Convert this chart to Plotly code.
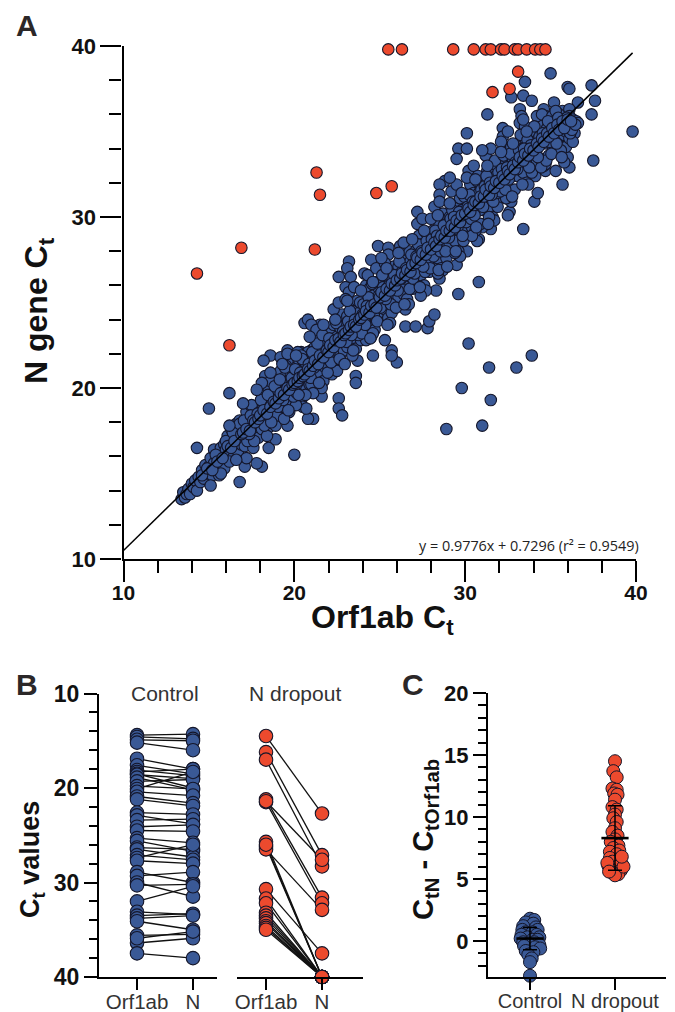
import plotly.graph_objects as go

W, H = 675, 1012
BLUE = "#3A5996"
RED = "#EC4A2E"
EDGE = "#14162A"
FONT = "Liberation Sans"

# ---------- Panel A data ----------
core_x = [
13.4,13.5,13.6,13.7,13.8,13.9,14.0,14.1,14.2,14.3,14.4,14.5,14.6,14.7,14.8,14.9,
15.0,15.1,15.2,15.3,15.3,15.4,15.5,15.6,15.6,15.7,15.8,15.9,15.9,
16.0,16.1,16.2,16.3,16.3,16.4,16.5,16.6,16.7,16.7,16.8,16.9,16.9,
17.0,17.1,17.1,17.2,17.3,17.3,17.4,17.4,17.5,17.6,17.6,17.7,17.8,17.8,17.9,17.9,17.5,17.2,
18.0,18.1,18.1,18.2,18.2,18.3,18.4,18.4,18.5,18.5,18.6,18.7,18.7,18.8,18.9,18.9,18.3,18.6,18.1,18.4,
19.0,19.0,19.1,19.2,19.2,19.3,19.3,19.4,19.5,19.5,19.6,19.6,19.7,19.8,19.8,19.9,19.9,19.2,19.5,19.7,19.4,19.6,
20.0,20.0,20.1,20.2,20.2,20.3,20.4,20.4,20.5,20.5,20.6,20.7,20.7,20.8,20.8,20.9,20.9,20.2,20.5,20.7,20.4,20.1,
21.0,21.0,21.1,21.2,21.2,21.3,21.4,21.4,21.5,21.5,21.6,21.7,21.7,21.8,21.8,21.9,21.9,21.3,21.6,21.1,
22.0,22.0,22.1,22.2,22.2,22.3,22.4,22.4,22.5,22.5,22.6,22.7,22.7,22.8,22.8,22.9,22.9,22.3,22.6,22.2,22.5,
23.0,23.1,23.1,23.2,23.3,23.3,23.4,23.5,23.5,23.6,23.6,23.7,23.8,23.8,23.9,23.9,23.2,23.5,23.7,23.4,23.0,
24.0,24.0,24.1,24.2,24.2,24.3,24.4,24.4,24.5,24.5,24.6,24.7,24.7,24.8,24.8,24.9,24.9,24.3,24.6,24.2,24.8,
25.0,25.0,25.1,25.2,25.2,25.3,25.4,25.4,25.5,25.5,25.6,25.7,25.7,25.8,25.8,25.9,25.9,25.3,25.6,25.1,
26.0,26.1,26.1,26.2,26.3,26.3,26.4,26.5,26.5,26.6,26.6,26.7,26.8,26.8,26.9,26.9,26.2,26.5,26.7,26.4,
27.0,27.1,27.1,27.2,27.3,27.3,27.4,27.5,27.5,27.6,27.6,27.7,27.8,27.8,27.9,27.9,27.2,27.5,27.7,27.4,
28.0,28.1,28.1,28.2,28.3,28.3,28.4,28.5,28.5,28.6,28.6,28.7,28.8,28.8,28.9,28.9,28.2,28.5,28.7,28.4,28.0,
29.0,29.1,29.1,29.2,29.3,29.3,29.4,29.5,29.5,29.6,29.6,29.7,29.8,29.8,29.9,29.9,29.2,29.5,29.7,29.4,29.1,
30.0,30.1,30.1,30.2,30.3,30.3,30.4,30.5,30.5,30.6,30.6,30.7,30.8,30.8,30.9,30.9,30.2,30.5,30.7,30.4,30.1,
31.0,31.1,31.1,31.2,31.3,31.3,31.4,31.5,31.5,31.6,31.6,31.7,31.8,31.8,31.9,31.9,31.2,31.5,31.7,31.4,31.0,
32.0,32.1,32.1,32.2,32.3,32.3,32.4,32.5,32.5,32.6,32.6,32.7,32.8,32.8,32.9,32.9,32.2,32.5,32.7,32.4,32.1,
33.0,33.1,33.1,33.2,33.3,33.3,33.4,33.5,33.5,33.6,33.6,33.7,33.8,33.8,33.9,33.9,33.2,33.5,33.7,33.4,
34.0,34.1,34.1,34.2,34.3,34.3,34.4,34.5,34.5,34.6,34.6,34.7,34.8,34.8,34.9,34.9,34.2,34.5,34.7,
35.0,35.1,35.1,35.2,35.3,35.4,35.5,35.5,35.6,35.7,35.8,35.8,35.9,35.9,35.3,35.6,
36.0,36.1,36.1,36.2,36.3,36.4,36.5,36.6,36.3,
]
core_y = [
13.5,13.9,13.6,13.8,14.1,13.8,14.4,14.2,14.6,14.0,14.8,14.5,15.2,14.7,15.5,15.0,
15.4,15.9,14.9,15.6,16.4,15.2,16.0,15.4,14.9,16.5,15.9,16.7,15.3,
16.4,17.2,16.2,16.9,17.6,15.9,16.6,17.9,16.3,17.2,18.1,16.7,17.5,
17.9,17.2,16.6,18.6,17.5,18.1,16.9,17.7,18.9,17.8,16.5,18.2,17.3,18.8,18.0,17.1,19.0,15.9,
18.6,19.7,17.6,18.9,18.0,19.3,18.1,18.8,20.0,17.7,19.1,18.4,19.6,18.9,17.8,19.4,20.7,20.4,20.3,17.2,
19.6,18.4,20.2,19.5,21.0,18.9,19.9,20.6,19.2,19.9,21.5,20.3,19.4,20.1,20.8,19.0,20.4,21.8,21.3,18.6,18.2,22.0,
20.5,19.5,21.2,20.0,20.7,21.6,20.3,19.3,21.0,22.0,20.6,21.4,19.9,20.9,22.1,20.2,21.7,22.1,18.9,18.8,21.9,19.0,
21.4,20.2,22.0,21.2,22.4,20.6,21.7,22.8,20.9,21.9,22.4,21.3,20.4,22.0,23.2,21.5,22.7,23.4,20.0,19.7,
22.3,21.2,23.2,22.0,22.8,23.7,22.2,21.3,23.0,24.1,22.6,23.5,21.9,22.9,24.3,22.2,23.6,24.6,25.0,20.8,21.0,
23.3,24.2,22.4,23.1,23.8,24.9,22.9,23.4,24.5,22.3,23.9,25.1,23.5,24.4,22.8,24.0,25.6,25.9,21.6,21.9,25.2,
24.3,23.2,25.2,24.1,26.0,23.6,24.7,25.8,23.0,24.9,25.4,24.2,23.4,25.0,26.2,24.5,25.9,26.6,23.2,22.8,27.0,
25.2,24.2,26.2,25.1,25.9,24.6,25.7,26.8,24.1,25.5,26.4,25.2,24.4,26.0,27.1,25.5,26.7,27.3,23.8,27.6,
26.2,27.1,25.3,26.0,26.8,27.9,25.5,26.4,27.5,25.2,26.9,28.0,26.5,27.4,25.8,27.0,28.3,24.6,24.9,28.5,
27.3,28.0,26.4,27.1,27.6,28.9,26.6,27.3,28.4,26.0,27.8,29.1,27.4,28.4,26.8,27.9,29.6,29.9,25.7,25.4,
28.1,29.2,27.2,28.1,28.6,29.9,27.6,28.3,29.6,27.0,28.8,30.2,28.4,29.4,27.6,29.1,30.6,30.9,26.9,26.7,29.9,
29.3,30.0,28.4,28.9,29.8,30.7,28.6,29.3,30.6,28.0,29.8,31.1,29.4,30.4,28.6,30.1,31.5,31.9,27.7,27.9,32.3,
30.1,31.2,29.2,30.1,30.6,31.9,29.4,30.5,31.4,29.2,30.8,32.1,30.4,31.4,29.6,31.1,32.7,33.0,28.6,28.9,32.3,
31.3,32.0,30.4,30.9,31.8,32.7,30.6,31.3,32.6,30.0,32.0,33.1,31.4,32.4,30.6,31.9,33.6,34.0,29.8,30.0,33.9,
32.1,33.2,31.2,32.1,32.6,33.9,31.4,32.5,33.4,31.0,32.8,34.1,32.4,33.4,31.6,33.1,34.7,35.0,30.9,31.1,34.4,
33.3,34.0,32.4,32.9,33.8,34.7,32.6,33.3,34.6,32.0,33.8,35.1,33.4,34.4,32.6,34.1,35.5,35.3,31.9,35.7,
34.1,35.0,33.2,34.1,34.6,35.7,33.4,34.3,35.4,33.0,34.8,35.9,34.3,35.2,33.6,34.9,35.9,36.0,33.1,
35.1,35.9,34.2,35.0,35.6,34.5,35.2,36.0,34.1,35.5,34.8,35.7,35.0,34.1,36.2,33.9,
35.4,35.9,34.6,35.2,35.7,34.9,35.6,35.5,34.4,
]
spread_x = [
30.2,33.9,31.4,33.0,29.8,31.5,31.0,28.9,26.0,25.7,25.7,25.3,24.6,23.6,23.6,22.6,22.6,22.8,
26.5,27.1,27.8,27.9,28.2,35.0,33.5,36.0,36.1,37.4,37.6,37.4,39.8,37.5,35.7,33.4,30.8,30.8,
29.6,28.3,31.3,30.1,29.6,30.1,29.5,27.2,28.8,28.5,28.5,24.9,25.5,25.5,24.5,23.2,23.1,22.6,
23.3,23.0,24.1,20.6,20.8,21.5,21.5,18.6,18.2,16.2,15.0,14.3,16.8,20.0,19.6,18.1,17.8,17.1,
18.5,18.9,21.1,20.8,21.6,19.6,20.4,21.0,21.0,33.2,33.3,32.7,33.4,33.9,34.6,35.2,36.6,35.7,
36.1,34.05,34.25,32.6,32.5,34.1,34.7,35.3,36.1,36.0,35.8,31.5,31.0,30.1,29.5,28.5,32.2,
]
spread_y = [
22.6,21.9,21.2,21.2,20.0,19.3,17.8,17.6,21.5,22.2,21.9,22.8,21.9,20.7,20.3,19.4,18.8,18.4,
23.6,23.6,23.5,23.9,24.3,38.4,37.9,37.6,37.5,37.7,36.8,36.0,35.0,33.3,31.9,29.3,28.7,26.2,
25.5,25.7,36.0,34.9,34.0,34.0,33.4,30.3,32.1,31.9,31.3,28.3,28.2,27.8,27.5,27.4,27.0,26.5,
26.5,25.9,26.7,23.8,24.0,23.7,23.4,21.9,21.6,19.7,18.8,16.5,14.5,16.1,17.8,15.4,15.6,15.4,
16.5,17.0,18.2,18.2,19.5,22.2,22.1,22.2,23.7,36.3,35.9,37.0,37.1,36.8,36.3,36.7,36.7,36.2,
36.3,30.9,31.4,30.3,30.1,32.4,32.7,32.7,32.9,33.5,33.2,29.3,29.4,28.0,27.2,26.4,35.2,
]
# Denser body of the cloud, read as a second pass along the band
body_x = [
15.1,15.4,15.7,16.0,16.2,16.4,16.6,16.8,17.05,17.25,17.45,17.65,17.85,18.05,18.25,18.45,18.65,18.85,
19.05,19.15,19.35,19.45,19.65,19.85,19.95,20.05,20.15,20.35,20.45,20.65,20.85,20.95,
21.05,21.15,21.35,21.45,21.65,21.75,21.95,22.05,22.15,22.35,22.45,22.65,22.85,22.95,
23.05,23.15,23.25,23.45,23.55,23.75,23.85,23.95,24.05,24.15,24.35,24.45,24.55,24.65,24.85,24.95,
25.05,25.15,25.25,25.45,25.55,25.65,25.85,25.95,26.05,26.15,26.25,26.45,26.55,26.75,26.85,26.95,
27.05,27.15,27.25,27.35,27.45,27.65,27.75,27.85,27.95,28.05,28.15,28.25,28.45,28.55,28.75,28.85,28.95,
29.05,29.15,29.25,29.45,29.55,29.65,29.85,29.95,30.05,30.15,30.25,30.35,30.45,30.65,30.75,30.85,30.95,
31.05,31.15,31.25,31.35,31.45,31.65,31.75,31.85,31.95,32.05,32.15,32.25,32.35,32.55,32.65,32.75,32.95,
33.05,33.15,33.25,33.35,33.55,33.65,33.75,33.85,33.95,34.05,34.15,34.35,34.45,34.55,34.75,34.85,34.95,
35.05,35.25,35.35,35.45,35.65,35.75,35.95,36.15,36.25,36.45,
17.35,18.35,19.25,20.25,21.25,22.25,23.35,24.25,25.35,26.35,27.55,28.35,29.35,30.55,31.55,32.45,33.45,34.25,
]
body_y = [
14.3,16.1,15.0,16.9,15.7,17.4,15.8,17.9,18.1,16.9,18.4,16.9,18.5,19.3,17.8,19.6,18.0,20.1,
18.9,20.5,19.3,21.2,18.7,20.6,19.5,21.1,19.7,20.9,21.7,19.6,21.4,20.6,
22.1,21.2,22.6,20.3,23.1,21.9,20.9,22.9,21.5,22.6,23.8,21.7,23.3,21.4,
22.7,23.9,24.5,22.2,24.0,23.1,25.0,23.2,24.9,23.7,25.3,22.9,26.1,24.3,23.9,25.4,
24.7,26.6,25.6,23.7,26.0,24.9,26.6,24.7,25.7,27.4,26.4,24.9,27.0,25.8,27.8,26.4,
26.7,27.7,28.4,25.9,28.0,26.8,28.6,27.2,27.0,28.7,27.7,29.2,26.9,28.0,29.5,28.0,27.1,
28.8,29.9,30.4,28.0,29.4,30.3,28.9,31.2,29.7,30.6,31.3,29.9,30.9,29.4,32.4,30.4,31.6,
30.6,31.8,32.4,29.6,32.0,30.9,33.3,31.4,32.6,31.5,32.8,33.6,31.6,32.2,33.7,31.2,33.2,
32.8,33.9,34.8,31.9,33.3,34.5,32.9,34.2,33.7,35.3,33.8,34.7,32.9,34.9,33.3,35.6,34.4,
33.7,35.2,34.3,35.8,33.5,35.3,35.8,34.9,35.1,35.4,
17.3,18.5,19.7,19.6,21.6,22.6,23.1,24.8,25.2,26.6,27.1,28.9,30.0,30.1,31.3,32.9,34.0,33.5,
]
# Third pass: the darkest ridge and the filled edges of the band
ridge_x = [
14.6,14.9,15.2,15.5,15.8,16.1,16.3,16.5,16.9,17.0,17.2,17.4,17.6,17.7,17.9,18.0,18.2,18.4,18.6,18.8,18.9,
19.1,19.2,19.4,19.6,19.7,19.9,20.0,20.2,20.3,20.5,20.6,20.8,20.9,21.1,21.2,21.4,21.5,21.7,21.9,
22.0,22.1,22.3,22.4,22.6,22.7,22.9,23.0,23.2,23.3,23.5,23.6,23.8,23.9,24.1,24.2,24.4,24.5,24.7,24.8,
25.0,25.1,25.3,25.4,25.6,25.7,25.9,26.0,26.2,26.3,26.5,26.6,26.8,26.9,27.1,27.2,27.4,27.5,27.7,27.8,
28.0,28.2,28.3,28.5,28.6,28.8,28.9,29.1,29.2,29.4,29.5,29.7,29.8,30.0,30.2,30.3,30.5,30.6,30.8,30.9,
31.1,31.2,31.4,31.5,31.7,31.8,32.0,32.2,32.3,32.5,32.6,32.8,32.9,33.1,33.2,33.4,33.5,33.7,33.8,34.0,
34.2,34.3,34.5,34.6,34.8,34.9,35.1,35.2,35.4,35.5,35.7,35.8,36.0,36.2,
16.2,17.0,17.8,18.6,19.3,20.1,20.9,21.7,22.4,23.1,23.9,24.6,25.4,26.1,26.9,27.6,28.4,29.1,29.8,30.6,31.3,32.1,32.8,33.6,
]
ridge_y = [
14.9,15.3,15.2,15.7,15.9,16.6,16.5,16.9,17.3,17.4,17.6,17.5,18.1,18.0,18.2,18.4,18.7,18.5,18.9,19.2,19.1,
19.4,19.7,19.6,20.0,19.9,20.2,20.3,20.4,20.6,20.7,20.8,21.1,21.0,21.3,21.6,21.4,21.9,21.8,22.2,
22.1,22.5,22.4,22.8,22.9,22.7,23.1,23.2,23.4,23.6,23.7,23.6,24.0,24.1,24.3,24.5,24.4,24.8,24.9,24.7,
25.3,25.6,25.4,25.8,25.7,26.1,26.0,26.3,26.4,26.7,26.6,26.9,26.8,27.2,27.3,27.6,27.5,27.9,27.8,28.2,
28.1,28.5,28.3,28.7,28.9,28.8,29.2,29.2,29.5,29.4,29.8,29.7,30.1,30.2,30.5,30.3,30.7,30.9,30.8,31.2,
31.2,31.6,31.3,31.8,31.7,32.1,32.0,32.4,32.2,32.7,32.5,33.0,32.8,33.2,33.5,33.3,33.7,33.6,34.0,33.9,
34.3,34.1,34.6,34.4,34.9,34.7,35.2,34.9,35.4,35.1,35.6,35.2,35.7,35.6,
17.8,19.1,19.9,20.9,21.4,21.9,23.0,23.7,24.0,25.1,25.7,26.2,27.0,27.9,28.7,29.2,30.1,30.8,31.4,32.2,33.0,33.8,34.3,35.0,
]
dropout_x = [25.5,26.3,29.3,30.5,31.2,31.5,32.1,32.3,32.9,33.1,33.6,34.1,34.4,34.7,
             33.1,32.6,31.6,25.7,24.8,14.3,16.9,21.2,21.5,21.3,16.2]
dropout_y = [39.8,39.8,39.8,39.8,39.8,39.8,39.8,39.8,39.8,39.8,39.8,39.8,39.8,39.8,
             38.5,37.5,37.3,31.8,31.4,26.7,28.2,28.1,31.3,32.6,22.5]
fit_x = [10, 39.8]
fit_y = [10.5, 39.6]

# ---------- Panel B data ----------
pair_categories = ["Orf1ab", "N"]
control_orf = [14.4,14.6,14.9,15.2,16.9,17.6,18.1,18.3,18.5,18.6,18.9,19.3,19.8,20.1,20.4,20.9,21.2,
               22.6,22.9,23.4,24.1,24.5,25.3,25.6,26.3,26.5,27.1,27.4,27.7,28.9,29.3,30.0,30.3,
               32.0,33.1,33.5,33.8,34.1,35.6,36.4,37.5,35.9]
control_n = [14.3,14.8,15.0,16.0,18.0,18.5,18.7,18.0,20.0,19.0,20.2,19.1,20.1,18.3,20.8,21.6,21.9,
             22.8,23.8,23.3,23.9,24.6,25.8,26.7,26.5,27.3,27.6,26.0,28.0,30.0,28.9,31.5,30.2,
             30.4,33.4,33.3,33.5,35.0,35.5,35.9,38.0,35.2]
drop_orf = [14.5,16.2,17.0,21.2,21.5,25.7,26.2,26.5,30.7,31.7,32.2,33.2,33.5,33.8,34.1,34.3,34.6,34.8,35.0,21.4,26.0]
drop_n = [22.7,27.1,28.3,31.6,32.2,40,40,32.9,37.5,40,40,40,40,40,40,40,40,40,40,27.6,40]

# ---------- Panel C data ----------
swarm_categories = ["Control", "N dropout"]
delta_control = [1.8,1.7,1.5,1.4,1.2,1.1,0.9,0.9,0.7,0.7,0.5,0.5,0.3,0.3,0.2,0.1,0.1,-0.1,-0.1,-0.2,
                 -0.3,-0.4,-0.5,-0.6,-0.8,-0.9,-1.1,-1.4,-1.7,-2.8]
offset_control = [0.0,0.05,-0.05,0.04,-0.08,0.07,-0.09,0.09,-0.05,0.03,-0.1,0.08,-0.03,0.11,-0.11,0.03,0.09,
                  -0.08,0.05,-0.02,0.11,-0.07,0.06,0.12,-0.05,0.04,-0.02,0.02,0.0,0.0]
delta_dropout = [14.5,13.7,13.2,12.3,12.2,11.9,11.8,11.4,10.8,10.6,10.2,9.9,9.6,9.1,8.8,8.5,8.2,8.0,7.7,7.5,
                 7.3,7.2,7.0,6.7,6.6,6.4,6.2,6.1,6.0,5.8,5.7,5.5,5.4,5.3,6.3,6.0,5.6,6.8]
offset_dropout = [0.0,-0.02,0.02,-0.03,0.02,-0.01,0.03,0.0,-0.03,0.02,0.0,-0.02,0.02,0.0,-0.03,0.03,0.0,-0.05,
                  0.04,-0.02,0.05,-0.06,0.02,-0.06,0.05,-0.03,0.08,-0.08,0.03,-0.05,0.07,-0.03,0.04,0.0,
                  -0.09,0.1,-0.07,0.08]
mean_values = [0.2, 8.3]
sd_values = [0.9, 2.6]

AXIS = dict(showgrid=False, zeroline=False, showline=True, linecolor="black", linewidth=2.2,
            ticks="outside", tickcolor="black", tickwidth=2.2, automargin=False,
            tickfont=dict(family=FONT, color="#111111"))


def px_x(p):
    return p / W


def px_y(p):
    return 1 - p / H


fig = go.Figure()
marker_a = dict(size=11.5, line=dict(color=EDGE, width=1.1))
fig.add_trace(go.Scatter(x=spread_x + core_x + body_x + ridge_x, y=spread_y + core_y + body_y + ridge_y,
                         mode="markers", xaxis="x", yaxis="y",
                         marker=dict(color=BLUE, **marker_a), cliponaxis=False))
fig.add_trace(go.Scatter(x=dropout_x, y=dropout_y, mode="markers", xaxis="x", yaxis="y",
                         marker=dict(color=RED, **marker_a), cliponaxis=False))
fig.add_trace(go.Scatter(x=fit_x, y=fit_y, mode="lines", xaxis="x", yaxis="y",
                         line=dict(color="black", width=1.5)))


def add_pairs(left, right, color, xa):
    xs, ys = [], []
    for a, b in zip(left, right):
        xs += [0, 1, None]
        ys += [a, b, None]
    fig.add_trace(go.Scatter(x=xs, y=ys, mode="lines", xaxis=xa, yaxis="y2",
                             line=dict(color="#111111", width=1.3), cliponaxis=False))
    fig.add_trace(go.Scatter(x=[0] * len(left) + [1] * len(right), y=left + right, mode="markers",
                             xaxis=xa, yaxis="y2", cliponaxis=False,
                             marker=dict(color=color, size=13.5, line=dict(color=EDGE, width=1.1))))


add_pairs(control_orf, control_n, BLUE, "x2")
add_pairs(drop_orf, drop_n, RED, "x3")

for i, (vals, offs, col) in enumerate([(delta_control, offset_control, BLUE),
                                       (delta_dropout, offset_dropout, RED)]):
    fig.add_trace(go.Scatter(x=[i + o for o in offs], y=vals, mode="markers", xaxis="x4", yaxis="y3",
                             cliponaxis=False,
                             marker=dict(color=col, size=13, line=dict(color=EDGE, width=1))))
    fig.add_trace(go.Scatter(x=[i], y=[mean_values[i]], mode="markers", xaxis="x4", yaxis="y3",
                             marker=dict(size=1, color="black", opacity=0),
                             error_y=dict(type="data", array=[sd_values[i]], color="black", thickness=1.5, width=7),
                             error_x=dict(type="constant", value=0.16, color="black", thickness=2.6, width=0)))

fig.update_layout(
    width=W, height=H, margin=dict(l=0, r=0, t=0, b=0), paper_bgcolor="white", plot_bgcolor="white",
    showlegend=False,
    xaxis=dict(AXIS, domain=[px_x(123.5), px_x(636)], range=[10, 40], anchor="y", tickvals=[10, 20, 30, 40],
               ticklen=21, ticklabelstandoff=-7, tickfont=dict(family=FONT, size=21, color="#111111", weight="bold"),
               minor=dict(dtick=2, ticks="outside", ticklen=12, tickwidth=2.2, tickcolor="black")),
    yaxis=dict(AXIS, domain=[px_y(559), px_y(46)], range=[10, 40], anchor="x", tickvals=[10, 20, 30, 40],
               ticklen=21, tickfont=dict(family=FONT, size=22, color="#111111", weight="bold"),
               minor=dict(dtick=2, ticks="outside", ticklen=12, tickwidth=2.2, tickcolor="black")),
    xaxis2=dict(AXIS, domain=[px_x(99), px_x(217)], range=[-0.679, 1.429], anchor="y2",
                tickvals=[0, 1], ticktext=pair_categories, ticklen=11, ticklabelstandoff=-6,
                tickfont=dict(family=FONT, size=20.5, color="#333333")),
    xaxis3=dict(AXIS, domain=[px_x(237), px_x(363)], range=[-0.518, 1.732], anchor="y2",
                tickvals=[0, 1], ticktext=pair_categories, ticklen=11, ticklabelstandoff=-6,
                tickfont=dict(family=FONT, size=20.5, color="#333333")),
    yaxis2=dict(AXIS, domain=[px_y(977), px_y(693.5)], range=[40, 10], anchor="x2", tickvals=[10, 20, 30, 40],
                ticklen=13, tickfont=dict(family=FONT, size=23, color="#111111", weight="bold"),
                minor=dict(dtick=2, ticks="outside", ticklen=8, tickwidth=2.2, tickcolor="black")),
    xaxis4=dict(AXIS, domain=[px_x(488), px_x(666)], range=[-0.494, 1.6], anchor="y3",
                tickvals=[0, 1], ticktext=swarm_categories, ticklen=11, ticklabelstandoff=-6,
                tickfont=dict(family=FONT, size=20, color="#333333")),
    yaxis3=dict(AXIS, domain=[px_y(977), px_y(693)], range=[-2.9, 20], anchor="x4", tickvals=[0, 5, 10, 15, 20],
                ticklen=13, tickfont=dict(family=FONT, size=22, color="#111111", weight="bold"),
                minor=dict(dtick=1, ticks="outside", ticklen=8, tickwidth=2.2, tickcolor="black")),
)


def note(text, x, y, size, color="#111111", bold=True, angle=0, family=FONT):
    fig.add_annotation(text=text, xref="paper", yref="paper", x=px_x(x), y=px_y(y), showarrow=False,
                       xanchor="center", yanchor="middle", textangle=angle,
                       font=dict(family=family, size=size, color=color, weight="bold" if bold else "normal"))


note("A", 27, 26, 30, "#2B2728")
note("B", 27, 684, 30, "#2B2728")
note("C", 413, 684, 30, "#2B2728")
note("Orf1ab C<sub>t</sub>", 382, 619, 32)
note("N gene C<sub>t</sub>", 38, 311, 32, angle=-90)
note("C<sub>t</sub> values", 32, 860, 27, angle=-90)
note("C<sub>tN</sub> - C<sub>tOrf1ab</sub>", 425, 840, 29, angle=-90)
note("Control", 165, 693, 21, "#333333", bold=False)
note("N dropout", 295, 693, 21, "#333333", bold=False)
note("y = 0.9776x + 0.7296 (r² = 0.9549)", 529, 545, 14.4, "#222222", bold=False, family="Open Sans")

fig.write_html("out.html", config={"displayModeBar": False},
               post_script="document.body.style.margin='0';document.body.style.overflow='hidden';")
